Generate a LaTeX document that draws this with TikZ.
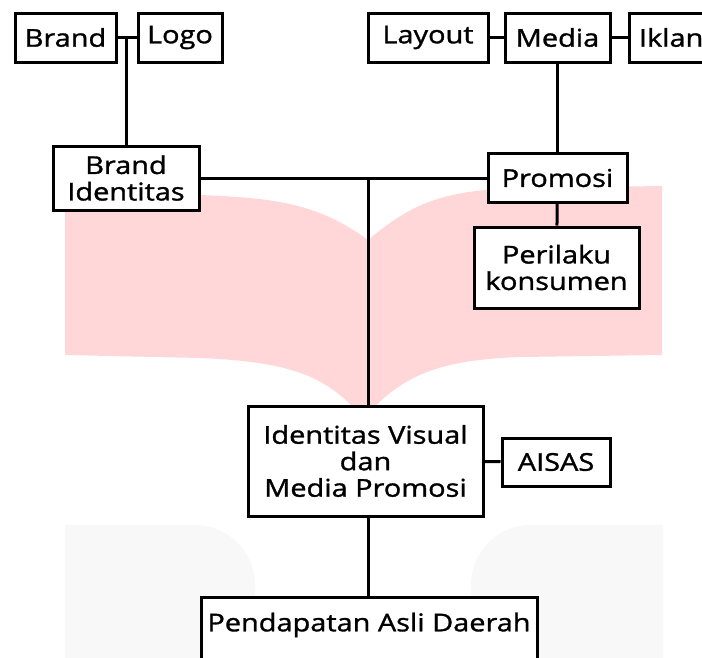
\documentclass[tikz,border=0pt]{standalone}
\usepackage{fontspec}
\setmainfont{Open Sans}[FakeStretch=1.18,FakeBold=1.3]
\definecolor{bookpink}{HTML}{FFD7D9}
\definecolor{faintgray}{HTML}{F8F8F8}
\begin{document}
\begin{tikzpicture}[x=1pt,y=-1pt,
  box/.style={draw=black,line width=3pt,fill=white,inner sep=0pt,align=center,
    font=\fontsize{24.5}{26.5}\selectfont},
  link/.style={draw=black,line width=3pt}]
\useasboundingbox (0,0) rectangle (702,657);
\begin{scope}
\clip (0,0) rectangle (702,657);
% faint background shapes
\fill[faintgray] (65,660) -- (65,525) -- (195,525) to[out=0,in=90] (255,585) -- (255,660) -- cycle;
\fill[faintgray] (663,660) -- (663,525) -- (531,525) to[out=180,in=90] (471,585) -- (471,660) -- cycle;
% pink book
\fill[bookpink] (65,192) -- (200,195) .. controls (280,198) and (320,205) .. (368,240)
  .. controls (410,205) and (440,190) .. (520,188) -- (662,186) -- (662,355)
  -- (520,357) .. controls (440,360) and (400,375) .. (364,419)
  .. controls (330,380) and (300,362) .. (200,358) -- (65,355) -- cycle;
% nodes
\node[box,minimum width=101pt,minimum height=49pt] (brand) at (65.5,37.5) {Brand};
\node[box,minimum width=84pt,minimum height=49pt] (logo) at (180,37.5) {Logo};
\node[box,minimum width=120pt,minimum height=49pt] (layout) at (428,37.5) {Layout};
\node[box,minimum width=105pt,minimum height=49pt] (media) at (557.5,37.5) {Media};
\node[box,minimum width=100pt,minimum height=49pt,text width=92pt,align=left] (iklan) at (679,37.5) {\hspace*{6pt}Iklan};
\node[box,minimum width=146pt,minimum height=64pt] (bi) at (126,178) {Brand\\Identitas};
\node[box,minimum width=139pt,minimum height=49pt] (promosi) at (557.5,178) {Promosi};
\node[box,minimum width=165pt,minimum height=81pt] (perilaku) at (556.5,267.5) {Perilaku\\konsumen};
\node[box,minimum width=235pt,minimum height=110pt] (ivmp) at (365.5,461) {Identitas Visual\\dan\\Media Promosi};
\node[box,minimum width=108pt,minimum height=48pt] (aisas) at (556,462) {AISAS};
\node[box,minimum width=336pt,minimum height=90pt,text depth=40pt] (pad) at (369,642) {Pendapatan Asli Daerah};
% connectors
\coordinate (j1) at (126,37.5);
\coordinate (j2) at (368,178);
\draw[link] (brand) -- (logo);
\draw[link] (j1) -- (bi.north);
\draw[link] (layout) -- (media);
\draw[link] (media) -- (iklan);
\draw[link] (media) -- (promosi);
\draw[link] (promosi) -- (perilaku);
\draw[link] (bi.east) -- (promosi.west);
\draw[link] (j2) -- (ivmp.north -| j2);
\draw[link] (ivmp) -- (aisas);
\draw[link] (ivmp.south -| j2) -- (pad.north -| j2);
\end{scope}
\end{tikzpicture}
\end{document}
